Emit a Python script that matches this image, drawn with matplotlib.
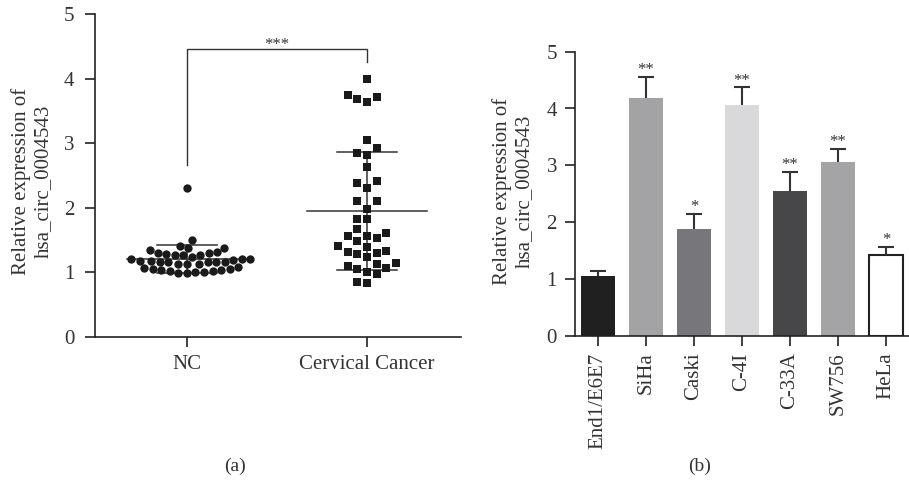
import numpy as np
import matplotlib
matplotlib.use("Agg")
import matplotlib.pyplot as plt

plt.rcParams['font.family'] = ['Liberation Serif', 'DejaVu Serif']

# --- Data: panel (a) ---
groups = ["NC", "Cervical Cancer"]
nc_vals = [2.31, 1.50, 1.41, 1.38, 1.38,
           1.31, 1.30, 1.27, 1.27, 1.27, 1.28, 1.30, 1.34,
           1.21, 1.20, 1.18, 1.16, 1.16, 1.15, 1.13, 1.13, 1.13, 1.15, 1.16, 1.18, 1.19, 1.21, 1.24,
           1.07, 1.05, 1.03, 1.02, 1.01, 0.98, 0.99, 1.01, 1.02, 1.04, 1.05, 1.08]
cc_vals = [3.99, 3.72, 3.64, 3.69, 3.74,
           3.05, 2.92, 2.81, 2.84, 2.63, 2.41, 2.38, 2.30, 2.11, 2.11,
           1.98, 1.83, 1.83, 1.67, 1.60, 1.56, 1.49, 1.53, 1.56, 1.41,
           1.33, 1.31, 1.28, 1.30, 1.39, 1.23, 1.13, 1.14, 1.09, 1.07,
           1.00, 0.97, 1.05, 0.83, 0.85]
sig_a = "***"

# --- Data: panel (b) ---
cell_lines = ["End1/E6E7", "SiHa", "Caski", "C-4I", "C-33A", "SW756", "HeLa"]
bar_means = [1.05, 4.18, 1.87, 4.07, 2.54, 3.05, 1.42]
bar_err = [0.09, 0.37, 0.28, 0.30, 0.34, 0.24, 0.15]
bar_sig = ["", "**", "*", "**", "**", "**", "*"]
bar_colors = ["#202020", "#a3a3a6", "#77777b", "#d9d9db", "#47474a", "#a4a4a7", "#ffffff"]

ink = "#222222"


def swarm_offsets(vals, d, y_scale, x_scale, box=False):
    # greedy beeswarm: put each point as close to the centre as it fits
    ys = np.asarray(vals) * y_scale
    order = np.argsort(ys)
    placed = []
    xs = np.zeros(len(ys))

    def clash(c, y):
        for px, py in placed:
            if box:
                if abs(c - px) < d - 1e-6 and abs(y - py) < d - 1e-6:
                    return True
            elif (c - px) ** 2 + (y - py) ** 2 < d ** 2 - 1e-6:
                return True
        return False

    for i in order:
        y = ys[i]
        cands = [0.0]
        for px, py in placed:
            dy = abs(py - y)
            if dy < d:
                dx = d if box else np.sqrt(d ** 2 - dy ** 2)
                cands += [px - dx, px + dx]
        for c in sorted(cands, key=abs):
            if not clash(c, y):
                xs[i] = c
                placed.append((c, y))
                break
    return xs / x_scale


fig = plt.figure(figsize=(9.09, 4.87), dpi=100)

# --- Panel (a): scatter dot plot ---
ax1 = fig.add_axes([95 / 909, (487 - 336.7) / 487, 366 / 909, 322.7 / 487])
px_per_x = 180.0
px_per_y = 64.6

specs = [(nc_vals, "o", 36, 8.6, False), (cc_vals, "s", 32, 9.6, True)]
for k, (vals, mk, size, diam, box) in enumerate(specs):
    offs = swarm_offsets(vals, diam, px_per_y, px_per_x, box=box)
    ax1.scatter(k + offs, vals, marker=mk, s=size, color="#1a1a1a", linewidths=0, zorder=3)
    m = np.mean(vals)
    sd = np.std(vals, ddof=1)
    ax1.plot([k - 0.335, k + 0.335], [m, m], color="#333333", lw=1.1, zorder=2)
    ax1.plot([k - 0.168, k + 0.168], [m + sd, m + sd], color="#333333", lw=1.1, zorder=2)
    ax1.plot([k - 0.168, k + 0.168], [m - sd, m - sd], color="#333333", lw=1.1, zorder=2)
    ax1.plot([k, k], [m - sd, m + sd], color="#333333", lw=1.1, zorder=2)

# significance bracket
ax1.plot([0, 0, 1, 1], [2.66, 4.45, 4.45, 4.26], color="#333333", lw=1.0)
ax1.annotate(sig_a, (0.5, 4.45), xytext=(0, 0), textcoords="offset points",
             ha="center", va="baseline", fontsize=12, color="#333333")

ax1.set_xlim(-0.511, 1.522)
ax1.set_ylim(0, 5)
ax1.set_xticks([0, 1])
ax1.set_xticklabels(groups)
ax1.set_yticks(range(6))

# --- Panel (b): bar chart ---
ax2 = fig.add_axes([575 / 909, (487 - 335.7) / 487, 334 / 909, 284 / 487])
xpos = np.arange(len(cell_lines))
ax2.bar(xpos, bar_means, width=0.69, color=bar_colors,
        edgecolor=["none"] * 6 + [ink], linewidth=1.5, zorder=2)
# upper error bars only, no cap at the bar top
tops = np.array(bar_means) + np.array(bar_err)
ax2.vlines(xpos, bar_means, tops, color="#333333", lw=1.5, zorder=3)
ax2.hlines(tops, xpos - 0.165, xpos + 0.165, color="#333333", lw=1.5, zorder=3)
for x, t, s in zip(xpos, tops, bar_sig):
    if s:
        ax2.annotate(s, (x, t), xytext=(0, 2), textcoords="offset points",
                     ha="center", va="baseline", fontsize=12, color="#333333")

ax2.set_xlim(-0.48, 6.48)
ax2.set_ylim(0, 5)
ax2.set_xticks(xpos)
ax2.set_xticklabels(cell_lines, rotation=90)
ax2.set_yticks(range(6))

# --- Shared styling ---
for ax in (ax1, ax2):
    for side in ("top", "right"):
        ax.spines[side].set_visible(False)
    for side in ("left", "bottom"):
        ax.spines[side].set_color(ink)
        ax.spines[side].set_linewidth(1.2)
    ax.tick_params(axis="both", direction="out", length=7, width=1.2, color=ink,
                   labelsize=15, labelcolor="#333333")
ax1.tick_params(axis="y", pad=8)
ax1.tick_params(axis="x", pad=6)
ax2.tick_params(axis="y", pad=6)
ax2.tick_params(axis="x", pad=5)

ylab = "Relative expression of\nhsa_circ_0004543"
fig.text(32 / 909, 1 - 181 / 487, ylab, rotation=90, ha="center", va="center",
         fontsize=15, color="#333333", linespacing=1.15)
fig.text(513 / 909, 1 - 191 / 487, ylab, rotation=90, ha="center", va="center",
         fontsize=15, color="#333333", linespacing=1.15)

fig.text(235 / 909, 1 - 466 / 487, "(a)", ha="center", va="center", fontsize=14, color="#333333")
fig.text(700 / 909, 1 - 466 / 487, "(b)", ha="center", va="center", fontsize=14, color="#333333")

fig.savefig("out.png", dpi=100)
